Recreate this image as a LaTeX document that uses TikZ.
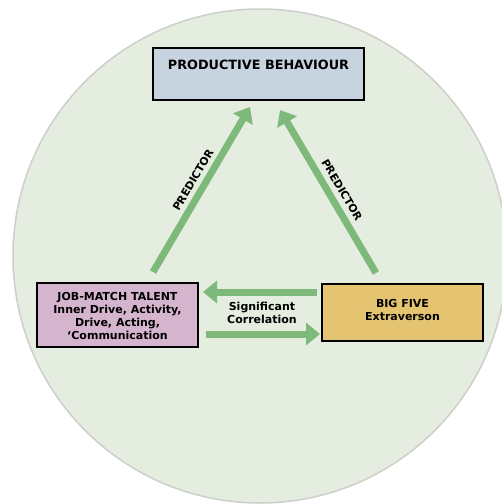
\documentclass[tikz,border=0pt]{standalone}
\usepackage{fontspec}
\setmainfont{DejaVu Sans}
\usetikzlibrary{arrows.meta}
\definecolor{bgc}{HTML}{E5EDE0}
\definecolor{rimc}{HTML}{CDD0CA}
\definecolor{pbc}{HTML}{C7D4DF}
\definecolor{jmc}{HTML}{D5B4CD}
\definecolor{bfc}{HTML}{E4C471}
\definecolor{arrc}{HTML}{7DB97A}
\tikzset{
  boxnode/.style={draw=black, line width=1.6pt, inner sep=0pt},
  txt/.style={font=\bfseries\fontsize{11}{13}\selectfont, align=center, inner sep=0pt},
  fatarrow/.style={draw=arrc, line width=7pt, -{Triangle[width=22pt,length=14pt]}},
  lbl/.style={font=\bfseries\fontsize{10.8}{13}\selectfont, align=center, inner sep=0pt}
}
\begin{document}
\begin{tikzpicture}[x=1pt,y=-1pt]
\useasboundingbox (0,0) rectangle (502,504);
\begin{scope}
\clip (0,0) rectangle (502,504);
\fill[bgc, draw=rimc, line width=1.5pt] (260,256) circle (247);
\end{scope}
% boxes
\node[boxnode, fill=pbc, line width=2pt, minimum width=211pt, minimum height=52pt] (pb) at (258.5,74) {};
\node[font=\bfseries\fontsize{12.8}{14}\selectfont, inner sep=0pt] (pbt) at (258.5,65) {PRODUCTIVE BEHAVIOUR};
\node[boxnode, fill=jmc, minimum width=161pt, minimum height=64pt] (jm) at (117.5,315) {};
\node[txt] (jmt) at (117.5,315.5) {JOB-MATCH TALENT\\Inner Drive, Activity,\\Drive, Acting,\\‘Communication};
\node[boxnode, fill=bfc, minimum width=161pt, minimum height=57pt] (bf) at (402.5,312.5) {};
\node[txt] (bft) at (402.5,309.5) {BIG FIVE\\Extraverson};
% arrow end points
\coordinate (l0) at (153,272);
\coordinate (l1) at (250,107);
\coordinate (r0) at (376,273);
\coordinate (r1) at (280,110);
\coordinate (h0) at (317,292);
\coordinate (h1) at (203,292);
\coordinate (k0) at (206,334);
\coordinate (k1) at (320,334);
\draw[fatarrow] (l0) -- (l1);
\draw[fatarrow] (r0) -- (r1);
\draw[fatarrow] (h0) -- (h1);
\draw[fatarrow] (k0) -- (k1);
% labels
\node[lbl, rotate=59.5] (pl) at (193,180) {PREDICTOR};
\node[lbl, rotate=-59.5] (pr) at (342,190) {PREDICTOR};
\node[txt] (sc) at (262,312.5) {Significant\\Correlation};
\end{tikzpicture}
\end{document}
